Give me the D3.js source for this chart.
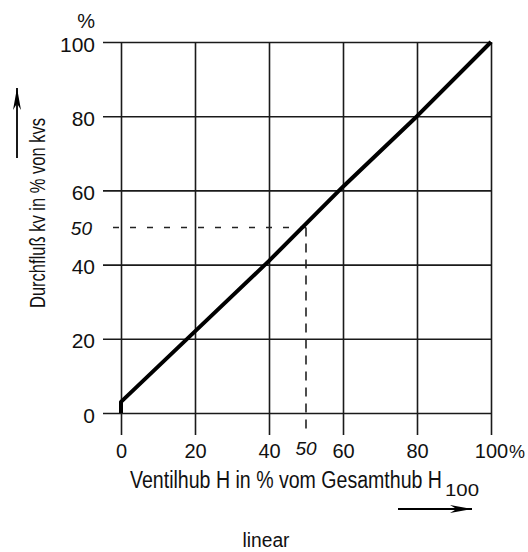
<!DOCTYPE html>
<html>
<head>
<meta charset="utf-8">
<script src="https://cdn.jsdelivr.net/npm/d3@7"></script>
<style>
  body { margin: 0; background: #fff; }
  text { font-family: "Liberation Sans", Arial, sans-serif; fill: #111; }
</style>
</head>
<body>
<div id="vis"></div>
<script>
var width = 528,
    height = 552;

// ticks
var xTicks = [0, 20, 40, 60, 80, 100];
var yTicks = [0, 20, 40, 60, 80, 100];

// characteristic curve (linear): valve lift vs flow
var hub  = [0, 0, 20, 40, 60, 80, 100];
var flow = [0, 3, 22, 41, 61, 80, 100];

// reading example
var markHub = 50,
    markFlow = 50;

var svg = d3.select("#vis").append("svg")
    .attr("width", width)
    .attr("height", height);

var x = d3.scaleLinear().domain([0, 100]).range([121, 491]);
var y = d3.scaleLinear().domain([0, 100]).range([413, 42]);

// horizontal grid + y labels
var yAxis = svg.append("g")
    .attr("transform", "translate(" + x(0) + ",0)")
    .call(d3.axisLeft(y).tickValues(yTicks).tickSize(0).tickPadding(26));

yAxis.select(".domain").remove();
yAxis.selectAll(".tick line")
    .attr("x1", -18)
    .attr("x2", x(100) - x(0))
    .attr("stroke", "#1a1a1a")
    .attr("stroke-width", 1.6);
yAxis.selectAll(".tick text")
    .attr("dy", 9)
    .style("font-size", "21px")
    .style("font-family", "'Liberation Sans', Arial, sans-serif")
    .attr("fill", "#111");

// vertical grid + x labels
var xAxis = svg.append("g")
    .attr("transform", "translate(0," + y(0) + ")")
    .call(d3.axisBottom(x).tickValues(xTicks).tickSize(0));

xAxis.select(".domain").remove();
xAxis.selectAll(".tick line")
    .attr("y1", 22)
    .attr("y2", y(100) - y(0))
    .attr("stroke", "#1a1a1a")
    .attr("stroke-width", 1.6);
xAxis.selectAll(".tick text")
    .attr("y", 45)
    .attr("dy", 0)
    .style("font-size", "20px")
    .style("font-family", "'Liberation Sans', Arial, sans-serif")
    .attr("fill", "#111");

// % units
svg.append("text")
    .attr("x", 95)
    .attr("y", 28)
    .attr("text-anchor", "end")
    .style("font-size", "20px")
    .text("%");

svg.append("text")
    .attr("x", 509)
    .attr("y", 458)
    .style("font-size", "18px")
    .text("%");

// dashed reading lines
svg.append("line")
    .attr("x1", 113)
    .attr("x2", x(markHub))
    .attr("y1", y(markFlow))
    .attr("y2", y(markFlow))
    .attr("stroke", "#222")
    .attr("stroke-width", 1.6)
    .attr("stroke-dasharray", "6,11");

svg.append("line")
    .attr("x1", x(markHub))
    .attr("x2", x(markHub))
    .attr("y1", y(markFlow))
    .attr("y2", y(0) + 22)
    .attr("stroke", "#222")
    .attr("stroke-width", 1.6)
    .attr("stroke-dasharray", "9,7");

// handwritten 50 marks
svg.append("text")
    .attr("x", 92)
    .attr("y", 235)
    .attr("text-anchor", "end")
    .style("font-size", "19px")
    .style("font-style", "italic")
    .text(markFlow);

svg.append("text")
    .attr("x", x(markHub))
    .attr("y", 455)
    .attr("text-anchor", "middle")
    .style("font-size", "19px")
    .style("font-style", "italic")
    .text(markHub);

// curve
var line = d3.line()
    .x(function(d, i) { return x(hub[i]); })
    .y(function(d, i) { return y(flow[i]); });

svg.append("path")
    .datum(hub)
    .attr("d", line)
    .attr("fill", "none")
    .attr("stroke", "#000")
    .attr("stroke-width", 4)
    .attr("stroke-linejoin", "round");

// axis titles
svg.append("text")
    .attr("transform", "translate(45,213) rotate(-90)")
    .attr("text-anchor", "middle")
    .attr("textLength", 190)
    .attr("lengthAdjust", "spacingAndGlyphs")
    .style("font-size", "22px")
    .text("Durchfluß kv in % von kvs");

var xTitle = svg.append("text")
    .attr("x", 130)
    .attr("y", 488)
    .style("font-size", "23px");

xTitle.append("tspan")
    .attr("textLength", 312)
    .attr("lengthAdjust", "spacingAndGlyphs")
    .text("Ventilhub H in % vom Gesamthub H");

xTitle.append("tspan")
    .attr("x", 445)
    .attr("dy", 8)
    .attr("textLength", 34)
    .attr("lengthAdjust", "spacingAndGlyphs")
    .style("font-size", "17px")
    .text("100");

svg.append("text")
    .attr("x", 266)
    .attr("y", 547)
    .attr("text-anchor", "middle")
    .attr("textLength", 47)
    .attr("lengthAdjust", "spacingAndGlyphs")
    .style("font-size", "20px")
    .text("linear");

// arrows
svg.append("defs").append("marker")
    .attr("id", "head")
    .attr("viewBox", "0 0 10 10")
    .attr("refX", 10)
    .attr("refY", 5)
    .attr("markerWidth", 22)
    .attr("markerHeight", 8)
    .attr("markerUnits", "userSpaceOnUse")
    .attr("orient", "auto")
    .attr("preserveAspectRatio", "none")
    .append("path")
    .attr("d", "M0,0 L10,5 L0,10 L3,5 Z")
    .attr("fill", "#000");

svg.append("line")
    .attr("x1", 17).attr("y1", 158)
    .attr("x2", 17).attr("y2", 88)
    .attr("stroke", "#000")
    .attr("stroke-width", 1.8)
    .attr("marker-end", "url(#head)");

svg.append("line")
    .attr("x1", 398).attr("y1", 509)
    .attr("x2", 472).attr("y2", 509)
    .attr("stroke", "#000")
    .attr("stroke-width", 1.8)
    .attr("marker-end", "url(#head)");
</script>
</body>
</html>
